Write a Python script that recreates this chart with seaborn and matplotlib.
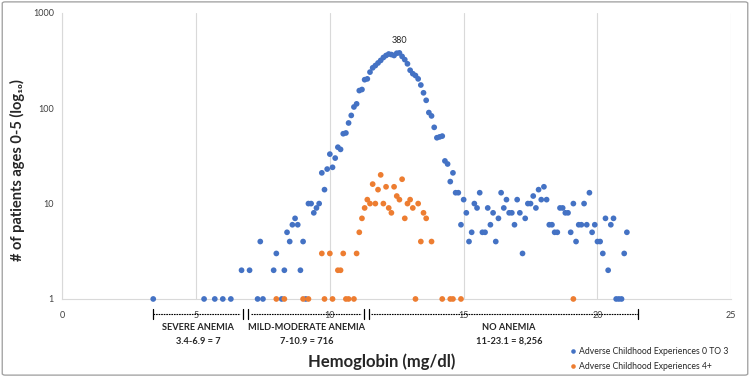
import pandas as pd
import seaborn as sns
import matplotlib.pyplot as plt
from matplotlib.patches import FancyBboxPatch

# hemoglobin (mg/dl) and number of patients
hb_low = [3.4, 5.3, 5.7, 6.0, 6.3, 6.7, 7.0, 7.3, 7.4, 7.5, 7.9, 8.0, 8.2, 8.3, 8.4, 8.5, 8.6, 8.7,
          8.8, 8.9, 9.0, 9.1, 9.2, 9.3, 9.4, 9.5, 9.6, 9.7, 9.8, 9.9, 10.0, 10.1, 10.2, 10.3, 10.4,
          10.5, 10.6, 10.7, 10.8, 10.9, 11.0, 11.1, 11.2, 11.3, 11.4, 11.5, 11.6, 11.7, 11.8, 11.9,
          12.0, 12.1, 12.2, 12.3, 12.4, 12.5, 12.6, 12.7, 12.8, 12.9, 13.0, 13.1, 13.2, 13.3, 13.4,
          13.5, 13.6, 13.7, 13.8, 13.9, 14.0, 14.1, 14.2, 14.3, 14.4, 14.5, 14.6, 14.7, 14.8, 14.9,
          15.0, 15.1, 15.2, 15.3, 15.4, 15.5, 15.6, 15.7, 15.8, 15.9, 16.0, 16.1, 16.2, 16.3, 16.4,
          16.5, 16.6, 16.7, 16.8, 16.9, 17.0, 17.1, 17.2, 17.3, 17.4, 17.5, 17.6, 17.7, 17.8, 17.9,
          18.0, 18.1, 18.2, 18.3, 18.4, 18.5, 18.6, 18.7, 18.8, 18.9, 19.0, 19.1, 19.2, 19.3, 19.4,
          19.5, 19.6, 19.7, 19.8, 19.9, 20.0, 20.1, 20.2, 20.3, 20.4, 20.5, 20.6, 20.7, 20.8, 20.9,
          21.0, 21.1]
n_low = [1, 1, 1, 1, 1, 2, 2, 1, 4, 1, 2, 3, 1, 2, 5, 4, 6, 7,
         6, 2, 4, 1, 10, 10, 8, 9, 10, 21, 14, 23, 33, 24, 30, 39, 37,
         54, 55, 70, 84, 103, 111, 153, 157, 199, 203, 239, 265, 280, 298, 317,
         340, 357, 370, 365, 357, 377, 380, 349, 323, 292, 250, 230, 220, 203, 175,
         145, 121, 90, 83, 63, 49, 50, 51, 28, 26, 17, 21, 13, 13, 6,
         11, 8, 4, 5, 10, 9, 13, 5, 5, 9, 6, 8, 4, 7, 13,
         9, 11, 8, 8, 6, 11, 8, 3, 7, 10, 10, 12, 9, 14, 11,
         15, 11, 6, 6, 5, 5, 9, 9, 8, 8, 5, 10, 4, 6, 6,
         10, 6, 13, 5, 6, 4, 4, 3, 7, 2, 6, 7, 1, 1, 1,
         3, 5]

hb_high = [8.0, 8.3, 9.0, 9.2, 9.7, 9.8, 10.0, 10.1, 10.3, 10.4, 10.5, 10.6, 10.7, 10.9, 11.0, 11.1,
           11.2, 11.3, 11.4, 11.5, 11.6, 11.7, 11.8, 11.9, 12.0, 12.1, 12.2, 12.3, 12.4, 12.5, 12.6,
           12.7, 12.8, 12.9, 13.0, 13.1, 13.2, 13.3, 13.4, 13.5, 13.6, 13.8, 14.2, 14.5, 14.6, 14.9,
           19.1]
n_high = [1, 1, 1, 1, 3, 1, 3, 1, 2, 2, 3, 1, 1, 1, 3, 5,
          7, 9, 11, 10, 16, 10, 14, 20, 10, 15, 9, 8, 15, 12, 11,
          18, 7, 10, 11, 9, 1, 10, 4, 8, 7, 4, 1, 1, 1, 1,
          1]

series = ["Adverse Childhood Experiences 0 TO 3", "Adverse Childhood Experiences 4+"]
peak_value = 380

data = pd.concat([
    pd.DataFrame({"hb": hb_low, "n": n_low, "grupo": series[0]}),
    pd.DataFrame({"hb": hb_high, "n": n_high, "grupo": series[1]}),
])

sns.set_style("white")
plt.rcParams['font.family'] = ['Lato', 'DejaVu Sans']

fig = plt.figure(figsize=(7.5, 3.77), dpi=100)
ax = fig.add_axes([0.083, 0.207, 0.892, 0.759])

palette = {series[0]: "#4472C4", series[1]: "#ED7D31"}
sns.scatterplot(data=data, x="hb", y="n", hue="grupo", palette=palette, s=17,
                linewidth=0, ax=ax, clip_on=False, zorder=3)

ax.set_yscale("log")
ax.set_ylim(1, 1000)
ax.set_xlim(0, 25)
ax.set_xticks([0, 5, 10, 15, 20, 25])
ax.set_yticks([1, 10, 100, 1000])
ax.set_yticklabels(["1", "10", "100", "1000"])
ax.minorticks_off()
ax.tick_params(axis="both", length=0, labelsize=6.5, colors="#404040")
ax.tick_params(axis="x", pad=9)
ax.tick_params(axis="y", pad=6)
ax.grid(axis="x", color="#d9d9d9", linewidth=0.8)
for s in ["top", "right"]:
    ax.spines[s].set_visible(False)
ax.spines["bottom"].set_color("#d9d9d9")
ax.spines["left"].set_color("#d9d9d9")
ax.set_xlabel("")
ax.set_ylabel("# of patients ages 0-5 (log₁₀)", fontsize=10.5, fontweight="bold")
ax.yaxis.set_label_coords(-0.055, 0.45)

# peak label
ax.annotate(str(peak_value), xy=(12.6, peak_value), xytext=(0, 6), textcoords="offset points",
            ha="center", va="bottom", fontsize=6.5)

# anemia range brackets below the axis
trans = ax.get_xaxis_transform()
yb = -0.052
brackets = [(3.4, 6.65), (7.05, 11.18), (11.55, 21.5)]
for a, b in brackets:
    ax.plot([a, b], [yb, yb], transform=trans, clip_on=False, color="black",
            linewidth=0.8, linestyle=(0, (1.5, 0.8)))
ticks_x = [3.4, 6.75, 6.95, 11.28, 11.45, 21.5]
for t in ticks_x:
    ax.plot([t, t], [yb - 0.018, yb + 0.018], transform=trans, clip_on=False,
            color="black", linewidth=0.9)

labels = [(198, "SEVERE ANEMIA", "3.4-6.9 = 7"),
          (307, "MILD-MODERATE ANEMIA", "7-10.9 = 716"),
          (509, "NO ANEMIA", "11-23.1 = 8,256")]
for px, top, bottom in labels:
    fig.text(px / 750, 1 - 327 / 377, top, ha="center", va="center", fontsize=6.7, fontweight="bold")
    fig.text(px / 750, 1 - 341 / 377, bottom, ha="center", va="center", fontsize=6.7, fontweight="bold")

fig.text(382 / 750, 1 - 362 / 377, "Hemoglobin (mg/dl)", ha="center", va="center",
         fontsize=12, fontweight="bold")

h, l = ax.get_legend_handles_labels()
ax.legend(h, l, loc="center left", bbox_to_anchor=(0.752, 0.048), bbox_transform=fig.transFigure,
          frameon=False, fontsize=6.2, handletextpad=0.0, labelspacing=0.7, markerscale=0.8,
          borderpad=0, handlelength=1.2)

# outer border of the chart
fig.patches.append(FancyBboxPatch((0.003, 0.005), 0.994, 0.99, boxstyle="round,pad=0,rounding_size=0.004",
                                  transform=fig.transFigure, facecolor="none", edgecolor="#a6a6a6",
                                  linewidth=1.0))

plt.savefig("out.png", dpi=100)
